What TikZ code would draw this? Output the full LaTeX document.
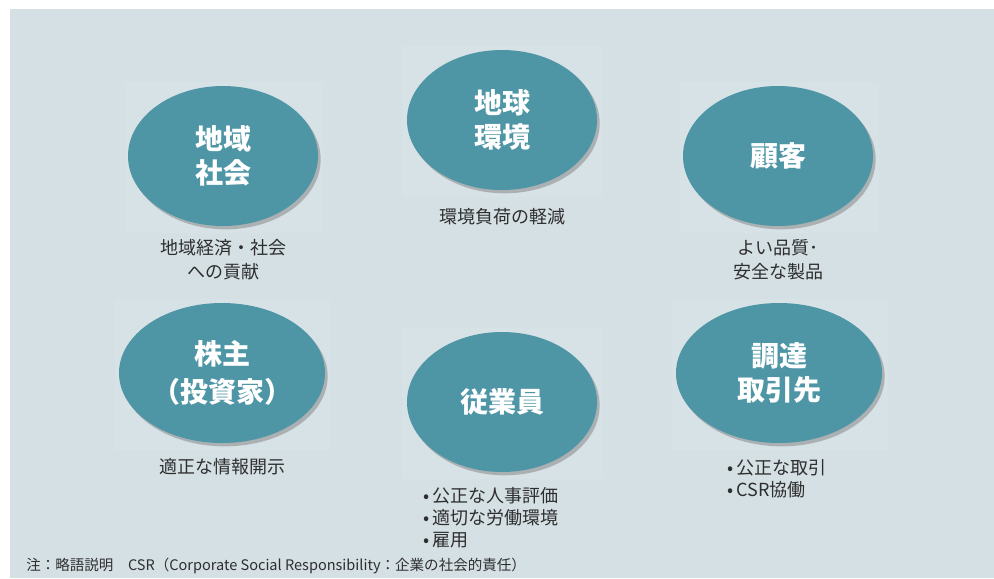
\documentclass[tikz,border=0pt]{standalone}
\usepackage{fontspec}
\setmainfont{Noto Sans CJK JP}
\usetikzlibrary{shapes.geometric,shadows}
\definecolor{panelbg}{HTML}{D5E0E5}
\definecolor{rectbg}{HTML}{D7E2E6}
\definecolor{ellfill}{HTML}{4E96A5}
\definecolor{txtgray}{HTML}{2E2E2E}
\begin{document}
\begin{tikzpicture}[x=0.75pt,y=-0.75pt,
  ell/.style={ellipse, fill=ellfill, draw=none, inner sep=0pt,
    minimum width=142.5pt, minimum height=105pt, text=white,
    font=\fontsize{21}{25}\selectfont\bfseries, align=center,
    drop shadow={shadow xshift=2pt, shadow yshift=-2.5pt, opacity=0.5}},
  wide/.style={minimum width=154.5pt},
  captxt/.style={text=txtgray, font=\fontsize{13.5}{18}\selectfont, align=center, inner sep=0pt},
  blist/.style={text=txtgray, font=\fontsize{13.5}{16.5}\selectfont, align=left, inner sep=0pt, anchor=west}]
\useasboundingbox (0,0) rectangle (994,578);
\fill[panelbg] (10,9) rectangle (994,578);
% faint squares behind the ellipses
\fill[rectbg] (125,82) rectangle (323,233);
\fill[rectbg] (402,46) rectangle (603,197);
\fill[rectbg] (680,82) rectangle (879,233);
\fill[rectbg] (115,299) rectangle (331,450);
\fill[rectbg] (402,328) rectangle (603,479);
\fill[rectbg] (672,299) rectangle (888,450);
% ellipses
\node[ell] (comm) at (223,156) {地域\\社会};
\node[ell] (earth) at (502,120) {地球\\環境};
\node[ell] (cust) at (778,156) {顧客};
\node[ell,wide] (share) at (222,373) {株主\\[3pt]（投資家）};
\node[ell] (emp) at (502,402) {\raisebox{-4pt}{従業員}};
\node[ell,wide] (supp) at (779,373) {調達\\取引先};
% captions
\node[captxt] (commc) at (223,260) {地域経済・社会\\への貢献};
\node[captxt] (earthc) at (502,217) {環境負荷の軽減};
\node[captxt] (custc) at (778,260) {よい品質･\\安全な製品};
\node[captxt] (sharec) at (222,467) {適正な情報開示};
\node[blist] (empc) at (423,518) {•\,公正な人事評価\\•\,適切な労働環境\\•\,雇用};
\node[blist] (suppc) at (727,478.5) {•\,公正な取引\\•\,CSR協働};
% footnote
\node[anchor=west, text=txtgray, inner sep=0pt, font=\fontsize{10.9}{12}\selectfont] (note) at (26,566)
  {注：略語説明　CSR（Corporate Social Responsibility：企業の社会的責任）};
\end{tikzpicture}
\end{document}
